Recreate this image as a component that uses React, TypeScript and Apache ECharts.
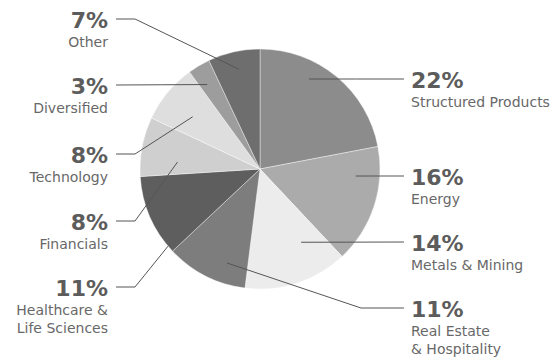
import React, { useEffect, useRef } from "react";
import * as echarts from "echarts";

const CATEGORIES = [
  "Structured Products",
  "Energy",
  "Metals & Mining",
  "Real Estate\n& Hospitality",
  "Healthcare &\nLife Sciences",
  "Financials",
  "Technology",
  "Diversified",
  "Other",
];
const SHARES = [22, 16, 14, 11, 11, 8, 8, 3, 7];
const COLORS = ["#8c8c8c", "#ababab", "#ececec", "#7d7d7d", "#5e5e5e", "#cfcfcf", "#dedede", "#9d9d9d", "#6e6e6e"];

// label placement: side, leader-line y, start point (polar: angle deg, radius fraction), elbow x
const LABEL_LAYOUT = [
  { side: "r", y: 79, a: 61.4, r: 0.854 },
  { side: "r", y: 176, a: -4.2, r: 0.8 },
  { side: "r", y: 242, a: -60.7, r: 0.7 },
  { side: "r", y: 308, a: -109.3, r: 0.83, elbow: 361 },
  { side: "l", y: 287, a: -140, r: 1.0, elbow: 135 },
  { side: "l", y: 221, a: 175.2, r: 0.69, elbow: 135 },
  { side: "l", y: 154, a: 142.2, r: 0.71, elbow: 135 },
  { side: "l", y: 85, a: 122, r: 0.83 },
  { side: "l", y: 19, a: 101.9, r: 0.85, elbow: 135 },
];

const CX = 260;
const CY = 169;
const R = 120;

export default function App() {
  const ref = useRef<HTMLDivElement>(null);
  useEffect(() => {
    if (!ref.current) return;
    const chart = echarts.init(ref.current, null, { renderer: "svg" });
    const base = {
      type: "pie",
      center: [CX, CY],
      radius: R,
      startAngle: 90,
      clockwise: true,
      avoidLabelOverlap: false,
    };
    chart.setOption({
      animation: false,
      backgroundColor: "#ffffff",
      series: [
        {
          ...base,
          z: 2,
          silent: true,
          itemStyle: { borderColor: "#ffffff", borderWidth: 0.4 },
          label: { show: false },
          labelLine: { show: false },
          data: CATEGORIES.map((name, i) => ({
            name,
            value: SHARES[i],
            itemStyle: { color: COLORS[i] },
          })),
        },
        {
          ...base,
          z: 5,
          silent: true,
          itemStyle: { color: "rgba(0,0,0,0)", borderWidth: 0 },
          data: CATEGORIES.map((name, i) => ({ name, value: SHARES[i] })),
          label: {
            show: true,
            position: "outside",
            formatter: (p: any) => `{p|${p.value}%}\n{n|${p.name}}`,
            rich: {
              p: {
                fontFamily: "DejaVu Sans",
                fontWeight: "bold",
                fontSize: 22,
                lineHeight: 26,
                color: "#5c5c5c",
              },
              n: {
                fontFamily: "DejaVu Sans",
                fontSize: 14,
                lineHeight: 18,
                color: "#686868",
              },
            },
          },
          labelLine: {
            show: true,
            lineStyle: { color: "#555555", width: 1, opacity: 1 },
          },
          labelLayout: (params: any) => {
            const L = LABEL_LAYOUT[params.dataIndex];
            const rad = (L.a * Math.PI) / 180;
            const sx = CX + R * L.r * Math.cos(rad);
            const sy = CY - R * L.r * Math.sin(rad);
            const right = L.side === "r";
            const endX = right ? 404 : 116;
            const elbowX = L.elbow !== undefined ? L.elbow : (sx + endX) / 2;
            const elbowY = L.elbow !== undefined ? L.y : (sy + L.y) / 2;
            return {
              x: right ? 411 : 108,
              y: L.y - 12,
              align: right ? "left" : "right",
              verticalAlign: "top",
              labelLinePoints: [
                [sx, sy],
                [elbowX, elbowY],
                [endX, L.y],
              ],
            };
          },
        },
      ],
    });
    return () => chart.dispose();
  }, []);
  return (
    <div
      ref={ref}
      style={{ position: "fixed", left: 0, top: 0, width: 556, height: 358 }}
    />
  );
}
